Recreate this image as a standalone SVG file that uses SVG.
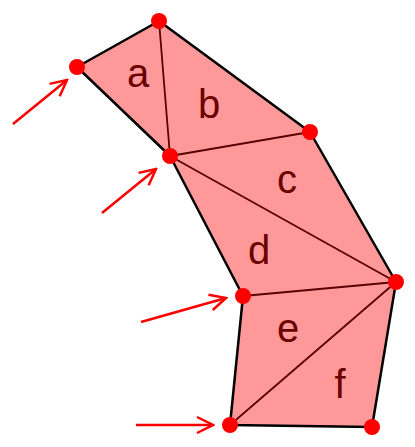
<svg xmlns="http://www.w3.org/2000/svg" width="415" height="447" viewBox="0 0 415 447">
<defs>
<marker id="ah" viewBox="0 0 20 20" refX="18" refY="10" markerWidth="20" markerHeight="20" markerUnits="userSpaceOnUse" orient="auto">
<path d="M2,2 L18,10 L2,18" fill="none" stroke="#ff0000" stroke-width="2.5"/>
</marker>
<style>
.tri{fill:#ff9999;stroke:none}
.outer{fill:none;stroke:#000;stroke-width:2.5;stroke-linejoin:round}
.inner{fill:none;stroke:#5a0000;stroke-width:1.8}
.dot{fill:#ff0000}
.lbl{font-family:"Liberation Sans",Arial,sans-serif;font-size:40px;fill:#6b0000;text-anchor:middle}
.arr{stroke:#ff0000;stroke-width:2.5;fill:none;marker-end:url(#ah)}
</style>
</defs>
<g id="a"><polygon class="tri" points="77,67 159,21 170,156"/><text class="lbl" x="138" y="87">a</text></g>
<g id="b"><polygon class="tri" points="159,21 310,132 170,156"/><text class="lbl" x="209" y="118">b</text></g>
<g id="c"><polygon class="tri" points="170,156 310,132 396,282"/><text class="lbl" x="287" y="193">c</text></g>
<g id="d"><polygon class="tri" points="170,156 396,282 243,296"/><text class="lbl" x="259" y="264">d</text></g>
<g id="e"><polygon class="tri" points="243,296 396,282 230,425"/><text class="lbl" x="288" y="342">e</text></g>
<g id="f"><polygon class="tri" points="230,425 396,282 372,427"/><text class="lbl" x="340" y="398">f</text></g>
<g id="connectors">
<path class="inner" d="M159,21 L170,156 M310,132 L170,156 M170,156 L396,282 M243,296 L396,282 M230,425 L396,282"/>
<polygon class="outer" points="77,67 159,21 310,132 396,282 372,427 230,425 243,296 170,156"/>
<line class="arr" x1="13" y1="124" x2="67" y2="80"/>
<line class="arr" x1="102" y1="213" x2="156" y2="169"/>
<line class="arr" x1="141" y1="322" x2="226" y2="298"/>
<line class="arr" x1="136" y1="425" x2="213" y2="425"/>
</g>
<g id="points">
<circle class="dot" cx="77" cy="67" r="8"/>
<circle class="dot" cx="159" cy="21" r="8"/>
<circle class="dot" cx="170" cy="156" r="8"/>
<circle class="dot" cx="310" cy="132" r="8"/>
<circle class="dot" cx="396" cy="282" r="8"/>
<circle class="dot" cx="243" cy="296" r="8"/>
<circle class="dot" cx="230" cy="425" r="8"/>
<circle class="dot" cx="372" cy="427" r="8"/>
</g>
</svg>
